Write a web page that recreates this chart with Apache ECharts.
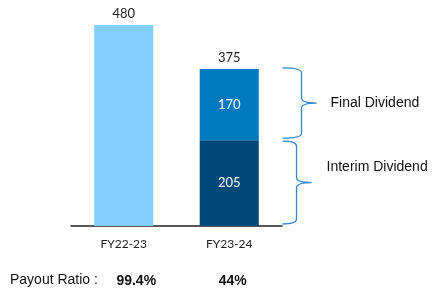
<!DOCTYPE html>
<html><head><meta charset="utf-8">
<script src="https://cdn.jsdelivr.net/npm/echarts@6/dist/echarts.min.js"></script>
<style>html,body{margin:0;padding:0;background:#fff}#c{width:436px;height:289px}</style>
</head><body><div id="c"></div>
<script>
var categories = ['FY22-23', 'FY23-24'];
var totalDividend = [480, null];
var interimDividend = [null, 205];
var finalDividend = [null, 170];
var payoutRatio = ['99.4%', '44%'];
var braceLabels = ['Interim Dividend', 'Final Dividend'];

var chart = echarts.init(document.getElementById('c'), null, {renderer: 'canvas'});
var numFont = 'Lato, "Open Sans", sans-serif';
var boldFont = '"Liberation Sans", Arial, sans-serif';
var braceData = [
  [1, 0, interimDividend[1], braceLabels[0], 0],
  [1, interimDividend[1], interimDividend[1] + finalDividend[1], braceLabels[1], 1]
];
function renderBrace(params, api) {
  var lo = api.value(1), hi = api.value(2), which = api.value(4);
  var pTop = api.coord([1, hi]);
  var pBot = api.coord([1, lo]);
  var band = api.size([1, 0])[0];
  var x0 = pTop[0] + band * 0.505;
  var xs = x0 + (which === 1 ? 19 : 14);
  var xt = xs + 15;
  var yTop = pTop[1] - 1, yBot = pBot[1] - 2;
  if (which === 0) yTop = pTop[1] + 1;
  var ym = (yTop + yBot) / 2;
  var r = 5;
  var d = 'M' + x0 + ' ' + yTop + ' Q' + xs + ' ' + yTop + ' ' + xs + ' ' + (yTop + r) +
    ' L' + xs + ' ' + (ym - r) + ' Q' + xs + ' ' + ym + ' ' + xt + ' ' + ym +
    ' Q' + xs + ' ' + ym + ' ' + xs + ' ' + (ym + r) +
    ' L' + xs + ' ' + (yBot - r) + ' Q' + xs + ' ' + yBot + ' ' + x0 + ' ' + yBot;
  return {
    type: 'group',
    children: [
      {type: 'path', shape: {pathData: d}, style: {fill: null, stroke: '#2E88CF', lineWidth: 1.3}},
      {type: 'text', x: xt + (which === 0 ? 15 : 14), y: ym + (which === 0 ? -15 : 0),
        style: {text: api.value(3), fill: '#111', font: '14px "Liberation Sans", Arial, sans-serif', textVerticalAlign: 'middle'}}
    ]
  };
}
chart.setOption({
  animation: false,
  grid: {left: 71, right: 154, top: 25, bottom: 63, containLabel: false},
  xAxis: [{
    type: 'category', data: categories, position: 'bottom',
    axisLine: {lineStyle: {color: '#222', width: 1.5}},
    axisTick: {show: false},
    axisLabel: {color: '#222', fontSize: 12, fontFamily: numFont, margin: 12}
  }, {
    type: 'category', data: categories, position: 'bottom', offset: 36,
    axisLine: {show: false}, axisTick: {show: false},
    axisLabel: {margin: 12,
      formatter: function (v, i) { return '{p' + i + '|' + payoutRatio[i] + '}'; },
      rich: {
        p0: {color: '#111', fontSize: 14, fontWeight: 'bold', fontFamily: boldFont, padding: [0, 0, 0, 25]},
        p1: {color: '#111', fontSize: 14, fontWeight: 'bold', fontFamily: boldFont, padding: [0, 0, 0, 7]}
      }}
  }],
  yAxis: {type: 'value', min: 0, max: 480, show: false, splitLine: {show: false}},
  graphic: [{
    type: 'text', left: 10, top: 273,
    style: {text: 'Payout Ratio :', fill: '#111', font: '14px "Liberation Sans", Arial, sans-serif'}
  }],
  series: [{
    type: 'bar', stack: 'a', data: totalDividend, barWidth: '56%',
    itemStyle: {color: '#82CFFF'},
    label: {show: true, position: 'top', distance: 5, color: '#222', fontSize: 13, fontFamily: numFont}
  }, {
    type: 'bar', stack: 'a', data: interimDividend,
    itemStyle: {color: '#004A79'},
    label: {show: true, position: 'inside', color: '#fff', fontSize: 13, fontFamily: numFont}
  }, {
    type: 'bar', stack: 'a', data: finalDividend,
    itemStyle: {color: '#0079C1'},
    label: {show: true, position: 'inside', color: '#fff', fontSize: 13, fontFamily: numFont}
  }, {
    type: 'bar', stack: 'a', data: finalDividend.map(function () { return 0; }),
    itemStyle: {color: 'transparent'},
    label: {show: true, position: 'top', distance: 5, color: '#222', fontSize: 13, fontFamily: numFont,
      formatter: function (p) {
        var i = p.dataIndex;
        return interimDividend[i] != null ? String(interimDividend[i] + finalDividend[i]) : '';
      }}
  }, {
    type: 'custom', data: braceData, renderItem: renderBrace, silent: true,
    encode: {x: 0, y: [1, 2]}, clip: false
  }]
});
</script></body></html>
